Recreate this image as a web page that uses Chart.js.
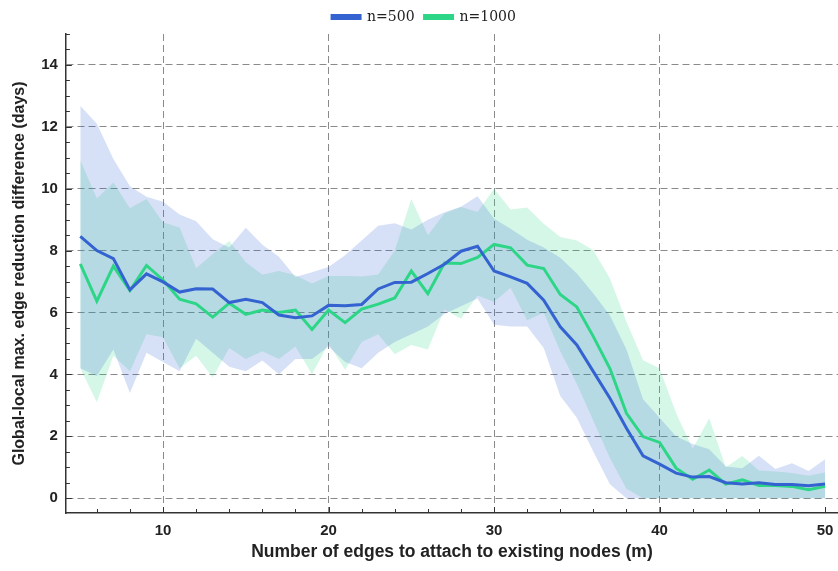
<!DOCTYPE html>
<html>
<head>
<meta charset="utf-8">
<script src="https://cdn.jsdelivr.net/npm/chart.js@4.4.1/dist/chart.umd.min.js"></script>
<style>
    html, body { margin: 0; padding: 0; background: #fff; }
    #wrap { width: 838px; height: 571px; }
</style>
</head>
<body>
<div id="wrap"><canvas id="chart" width="838" height="571"></canvas></div>
<script>
// m values on the x axis
const mValues = [5, 6, 7, 8, 9, 10, 11, 12, 13, 14, 15, 16, 17, 18, 19, 20, 21, 22, 23, 24, 25, 26, 27,
    28, 29, 30, 31, 32, 33, 34, 35, 36, 37, 38, 39, 40, 41, 42, 43, 44, 45, 46, 47, 48, 49, 50];

// n=500 series: mean and band
const n500Mean = [8.46, 8.0, 7.74, 6.73, 7.25, 6.99, 6.66, 6.77, 6.76, 6.32, 6.43, 6.32, 5.92, 5.83, 5.89, 6.23,
    6.22, 6.26, 6.76, 6.97, 6.98, 7.26, 7.56, 7.98, 8.14, 7.34, 7.15, 6.94, 6.4, 5.54, 4.95, 4.09, 3.23, 2.26,
    1.37, 1.1, 0.81, 0.68, 0.7, 0.5, 0.46, 0.5, 0.44, 0.44, 0.4, 0.46];
const n500High = [12.68, 12.1, 10.96, 10.08, 9.74, 9.58, 9.17, 8.95, 8.37, 8.1, 8.74, 8.19, 7.8, 7.15, 7.3, 7.47,
    7.85, 8.33, 8.8, 8.88, 8.68, 9.0, 9.24, 9.42, 9.76, 9.03, 8.71, 8.35, 8.1, 7.77, 7.26, 6.61, 5.9, 4.8,
    3.2, 2.6, 1.99, 1.75, 1.58, 1.02, 0.97, 1.37, 0.94, 1.13, 0.88, 1.26];
const n500Low = [4.2, 3.95, 4.8, 3.4, 4.7, 4.4, 4.1, 5.15, 4.7, 4.25, 4.1, 4.45, 4.0, 4.5, 4.5, 4.9,
    4.4, 4.2, 4.7, 5.05, 5.3, 5.55, 5.95, 6.2, 6.45, 5.6, 5.55, 5.55, 4.85, 3.3, 2.6, 1.5, 0.45, 0,
    0, 0, 0, 0, 0, 0, 0, 0, 0, 0, 0, 0];

// n=1000 series: mean and band
const n1000Mean = [7.57, 6.37, 7.5, 6.71, 7.52, 7.05, 6.43, 6.28, 5.85, 6.3, 5.94, 6.08, 6.0, 6.08, 5.45, 6.08,
    5.67, 6.11, 6.27, 6.47, 7.34, 6.61, 7.6, 7.58, 7.78, 8.2, 8.09, 7.53, 7.42, 6.58, 6.18, 5.22, 4.19, 2.74,
    1.99, 1.8, 0.97, 0.61, 0.91, 0.45, 0.59, 0.41, 0.41, 0.38, 0.27, 0.38];
const n1000High = [10.92, 9.68, 10.2, 9.37, 9.67, 8.91, 8.75, 7.43, 7.89, 8.31, 7.62, 7.22, 7.34, 7.2, 6.94, 7.18,
    7.18, 7.16, 7.23, 8.0, 9.67, 8.5, 9.2, 9.41, 9.25, 10.0, 9.33, 9.39, 8.87, 8.44, 8.33, 8.01, 7.1, 5.7,
    4.46, 4.2, 2.74, 1.6, 2.58, 1.0, 1.36, 0.89, 0.86, 0.81, 0.72, 0.83];
const n1000Low = [4.2, 3.1, 4.6, 4.1, 5.3, 5.2, 4.2, 4.6, 3.9, 4.85, 4.5, 4.75, 4.5, 4.9, 4.0, 5.0,
    4.15, 5.05, 5.3, 4.65, 4.95, 4.8, 6.1, 5.8, 6.55, 6.35, 6.8, 5.75, 6.0, 4.75, 3.7, 2.5, 1.3, 0.3,
    0, 0, 0, 0, 0, 0, 0, 0, 0, 0, 0, 0];

const xTickValues = [10, 20, 30, 40, 50];
const yTickValues = [0, 2, 4, 6, 8, 10, 12, 14];

const blue = "#3462d0";
const green = "#2dd686";
const fontFamily = "'Liberation Sans', Arial, sans-serif";
const tickFont = { family: fontFamily, size: 15, weight: "bold" };

const toPoints = ys => mValues.map((m, i) => ({ x: m, y: ys[i] }));

function bandSet(data, color, fillTarget) {
    return {
        data: toPoints(data),
        borderWidth: 0,
        borderColor: "transparent",
        backgroundColor: color,
        pointRadius: 0,
        fill: fillTarget,
        tension: 0
    };
}

// small inward ticks along both axes
const axisTicks = {
    id: "axisTicks",
    afterDraw(chart) {
        const { ctx, chartArea, scales } = chart;
        ctx.save();
        ctx.strokeStyle = "#333";
        ctx.lineWidth = 1;
        ctx.beginPath();
        for (let v = 0; v <= 15; v += 0.5) {
            const y = Math.round(scales.y.getPixelForValue(v)) + 0.5;
            const len = v % 2 === 0 ? 6 : 4;
            ctx.moveTo(chartArea.left, y);
            ctx.lineTo(chartArea.left + len, y);
        }
        for (let m = 6; m <= 50; m += 2) {
            const x = Math.round(scales.x.getPixelForValue(m)) + 0.5;
            const len = m % 10 === 0 ? 6 : 4;
            ctx.moveTo(x, chartArea.bottom);
            ctx.lineTo(x, chartArea.bottom - len);
        }
        ctx.stroke();
        ctx.restore();
    }
};

const ctx = document.getElementById("chart").getContext("2d");
new Chart(ctx, {
    type: "line",
    data: {
        datasets: [
            { label: "n=500", data: toPoints(n500Mean), borderColor: blue, backgroundColor: blue,
              borderWidth: 3, pointRadius: 0, fill: false, tension: 0 },
            { label: "n=1000", data: toPoints(n1000Mean), borderColor: green, backgroundColor: green,
              borderWidth: 3, pointRadius: 0, fill: false, tension: 0 },
            bandSet(n500High, "rgba(52, 98, 208, 0.2)", 3),
            bandSet(n500Low, "transparent", false),
            bandSet(n1000High, "rgba(45, 214, 134, 0.2)", 5),
            bandSet(n1000Low, "transparent", false)
        ]
    },
    options: {
        responsive: false,
        animation: false,
        layout: { padding: { left: 10, right: 0, top: 0, bottom: 8 } },
        plugins: {
            filler: { drawTime: "beforeDatasetsDraw" },
            tooltip: { enabled: false },
            legend: {
                position: "top",
                labels: {
                    filter: item => item.datasetIndex < 2,
                    boxWidth: 28,
                    boxHeight: 3,
                    padding: 10,
                    color: "#222",
                    font: { family: "'DejaVu Serif', serif", size: 14 }
                }
            }
        },
        scales: {
            x: {
                type: "linear",
                min: 4.13,
                max: 50.78,
                afterBuildTicks: axis => { axis.ticks = xTickValues.map(v => ({ value: v })); },
                afterFit: axis => { axis.paddingRight = 0; axis.paddingLeft = 0; axis.height = 50; },
                ticks: { font: tickFont, color: "#222", padding: 9, maxRotation: 0 },
                grid: {
                    color: c => (c.tick && c.tick.value === 50 ? "transparent" : "#8a8a8a"),
                    lineWidth: 1,
                    drawTicks: false
                },
                border: { display: true, color: "#333", width: 1.5, dash: [7, 4] },
                title: {
                    display: true,
                    text: "Number of edges to attach to existing nodes (m)",
                    font: { family: fontFamily, size: 17.5, weight: "bold" },
                    color: "#222",
                    padding: { top: 1, bottom: 0 }
                }
            },
            y: {
                type: "linear",
                min: -0.48,
                max: 15,
                afterBuildTicks: axis => { axis.ticks = yTickValues.map(v => ({ value: v })); },
                ticks: { font: tickFont, color: "#222", padding: 8 },
                grid: { color: "#8a8a8a", lineWidth: 1, drawTicks: false },
                border: { display: true, color: "#333", width: 1.5, dash: [7, 4] },
                title: {
                    display: true,
                    text: "Global-local max. edge reduction difference (days)",
                    font: { family: fontFamily, size: 16, weight: "bold" },
                    color: "#222",
                    padding: { top: 0, bottom: 4 }
                }
            }
        }
    },
    plugins: [axisTicks]
});
</script>
</body>
</html>
